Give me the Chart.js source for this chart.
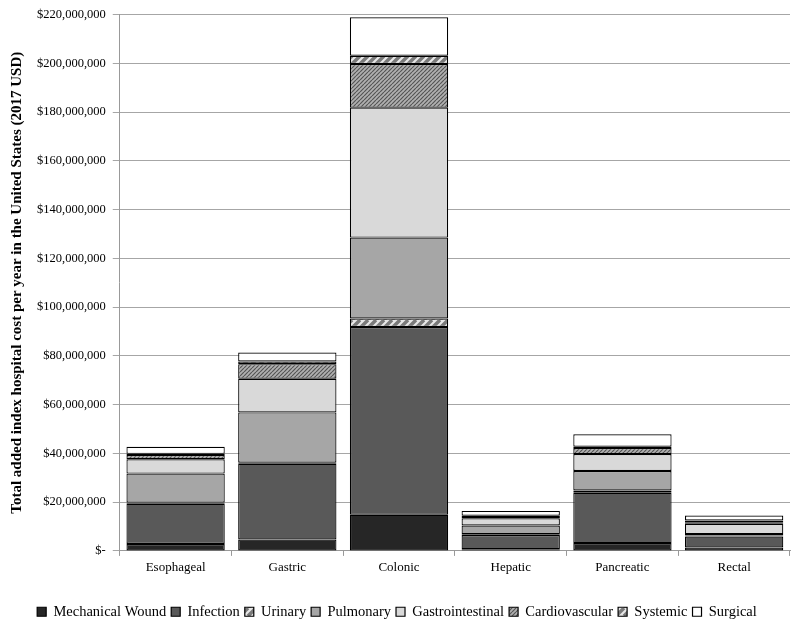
<!DOCTYPE html>
<html>
<head>
<meta charset="utf-8">
<script src="https://cdn.jsdelivr.net/npm/chart.js@4.4.0/dist/chart.umd.min.js"></script>
<style>
  html, body { margin: 0; padding: 0; background: #fff; }
  #wrap { width: 800px; height: 624px; }
</style>
</head>
<body>
<div id="wrap"><canvas id="costChart" width="800" height="624"></canvas></div>
<script>
// Categories and series (values in USD)
const categories = ['Esophageal', 'Gastric', 'Colonic', 'Hepatic', 'Pancreatic', 'Rectal'];
const mechanicalWound  = [2.8e6, 4.7e6, 14.8e6, 0.7e6, 3.2e6, 1.4e6];
const infection        = [16.5e6, 31.0e6, 77.0e6, 5.8e6, 20.6e6, 4.5e6];
const urinary          = [0.5e6, 0.5e6, 3.5e6, 0.3e6, 1.0e6, 0.4e6];
const pulmonary        = [11.9e6, 20.6e6, 33.2e6, 3.6e6, 8.0e6, 0.6e6];
const gastrointestinal = [5.9e6, 13.8e6, 53.3e6, 3.0e6, 6.9e6, 4.2e6];
const cardiovascular   = [1.7e6, 6.0e6, 17.9e6, 0.5e6, 2.5e6, 0.6e6];
const systemic         = [0.5e6, 1.1e6, 3.4e6, 0.5e6, 0.5e6, 0.8e6];
const surgical         = [2.9e6, 3.7e6, 15.8e6, 2.0e6, 5.1e6, 2.0e6];

const yMax = 220000000;
const yStep = 20000000;

// hatch patterns
function makePattern(size, bg, fg, lineW) {
    const c = document.createElement('canvas');
    c.width = size;
    c.height = size;
    const g = c.getContext('2d');
    g.fillStyle = bg;
    g.fillRect(0, 0, size, size);
    g.strokeStyle = fg;
    g.lineWidth = lineW;
    g.beginPath();
    for (let k = -1; k <= 1; k++) {
        g.moveTo(k * size, size);
        g.lineTo(k * size + size, 0);
    }
    g.stroke();
    return g.createPattern(c, 'repeat');
}
const ctx = document.getElementById('costChart').getContext('2d');
const denseHatch = makePattern(4, '#b0b0b0', '#555555', 1.2);
const wideHatch = makePattern(8, '#e8e8e8', '#7a7a7a', 3.5);

const serif = '"Liberation Serif", "Times New Roman", serif';

function ds(label, data, fill) {
    return {
        label: label,
        data: data,
        backgroundColor: fill,
        borderColor: '#000',
        borderWidth: 1.2,
        borderSkipped: false,
        barPercentage: 0.88,
        categoryPercentage: 1.0
    };
}

const costChart = new Chart(ctx, {
    type: 'bar',
    data: {
        labels: categories,
        datasets: [
            ds('Mechanical Wound', mechanicalWound, '#262626'),
            ds('Infection', infection, '#595959'),
            ds('Urinary', urinary, wideHatch),
            ds('Pulmonary', pulmonary, '#a6a6a6'),
            ds('Gastrointestinal', gastrointestinal, '#d9d9d9'),
            ds('Cardiovascular', cardiovascular, denseHatch),
            ds('Systemic', systemic, wideHatch),
            ds('Surgical', surgical, '#ffffff')
        ]
    },
    options: {
        responsive: false,
        animation: false,
        layout: { padding: { top: 10, right: 10, left: 4, bottom: -5 } },
        scales: {
            x: {
                stacked: true,
                grid: {
                    offset: true,
                    drawOnChartArea: false,
                    color: '#999',
                    tickLength: 5
                },
                border: { color: '#999' },
                ticks: { color: '#000', font: { family: serif, size: 13 }, padding: 4 },
                afterFit: function(scale) { scale.height += 20; }
            },
            y: {
                stacked: true,
                min: 0,
                max: yMax,
                grid: { color: '#a6a6a6', tickLength: 7 },
                border: { color: '#999' },
                ticks: {
                    stepSize: yStep,
                    color: '#000',
                    font: { family: serif, size: 12.5 },
                    padding: 7,
                    callback: function(value) {
                        if (value === 0) return '$-';
                        return '$' + value.toLocaleString('en-US');
                    }
                },
                title: {
                    display: true,
                    text: 'Total added index hospital cost per year in the United States (2017 USD)',
                    color: '#000',
                    font: { family: serif, size: 15, weight: 'bold' },
                    padding: { bottom: 4 }
                }
            }
        },
        plugins: {
            legend: {
                position: 'bottom',
                labels: {
                    color: '#000',
                    boxWidth: 9,
                    boxHeight: 9,
                    padding: 5,
                    font: { family: serif, size: 14.5 }
                }
            },
            tooltip: { enabled: false }
        }
    }
});
</script>
</body>
</html>
